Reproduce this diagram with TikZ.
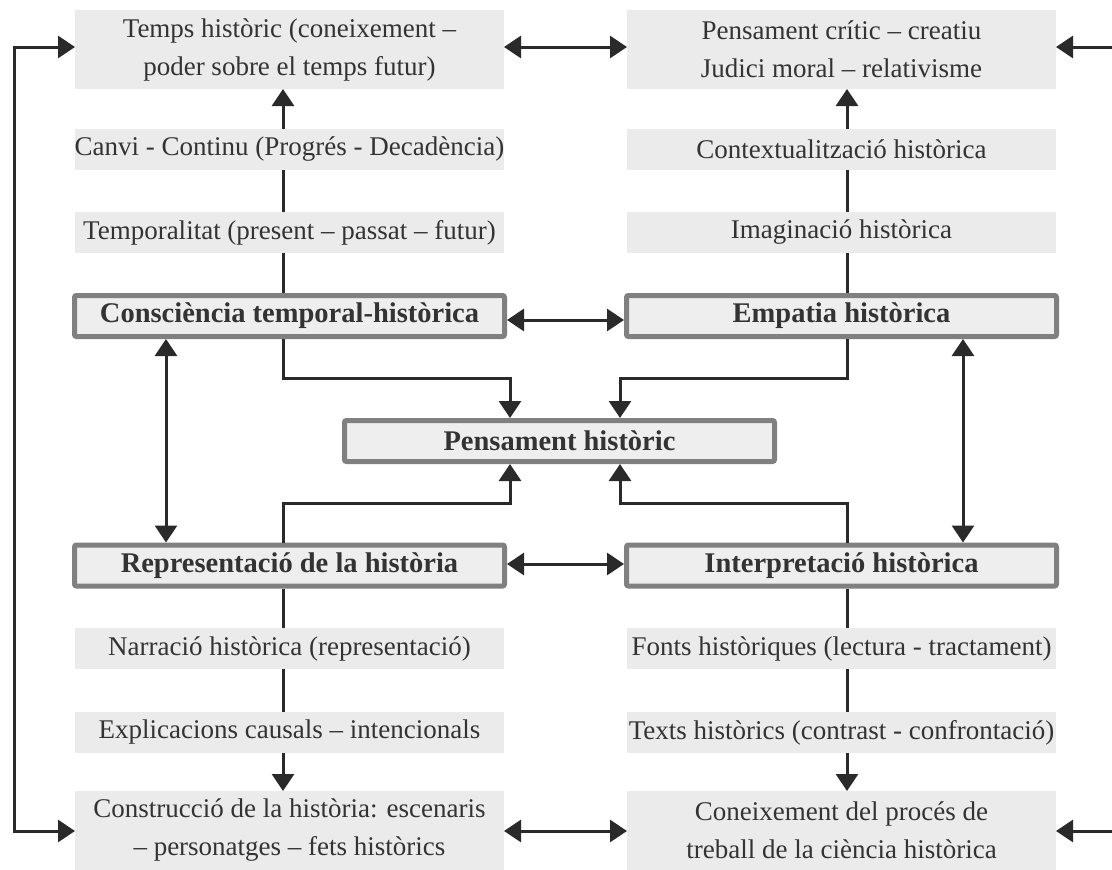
\documentclass[tikz,border=0pt]{standalone}
\usepackage{fontspec}
\setmainfont{Liberation Serif}
\usetikzlibrary{arrows.meta,backgrounds}
\definecolor{ink}{HTML}{333333}
\definecolor{wire}{HTML}{2A2A2A}
\definecolor{pale}{HTML}{EBEBEB}
\definecolor{rim}{HTML}{808080}
\definecolor{corefill}{HTML}{EEEEEE}

\begin{document}
\begin{tikzpicture}[x=1pt,y=-1pt,
  every node/.style={text=ink, align=center, inner sep=0pt, outer sep=0pt},
  note/.style={fill=pale, minimum width=429pt, minimum height=41pt,
    font=\fontsize{27}{38}\selectfont},
  bignote/.style={note, minimum height=79pt},
  keybox/.style={draw=rim, fill=corefill, line width=5pt, rounded corners=2pt,
    minimum width=430pt, minimum height=41pt, outer sep=2.5pt,
    font=\fontsize{28.5}{37}\selectfont\bfseries},
  link/.style={draw=wire, line width=3pt},
  fwd/.style={link, -{Triangle[width=22pt,length=17pt]}},
  both/.style={link, {Triangle[width=22pt,length=17pt]}-{Triangle[width=22pt,length=17pt]}},
]
\useasboundingbox (0,0) rectangle (1112,870);

% guide coordinates for rows and columns of connectors
\coordinate (rowA) at (0,47);
\coordinate (rowB) at (0,320);
\coordinate (rowC) at (0,564);
\coordinate (rowD) at (0,831);
\coordinate (colL) at (283,0);
\coordinate (colR) at (847,0);
\coordinate (vL) at (166,0);
\coordinate (vR) at (963,0);
\coordinate (loopL) at (14,0);
\coordinate (edgeR) at (1116,0);
\coordinate (pL) at (510,378);
\coordinate (pR) at (620,378);
\coordinate (qL) at (510,503);
\coordinate (qR) at (620,503);

% outcome boxes
\node[bignote] (tl) at (289.5,49.5) {Temps històric (coneixement –\\poder sobre el temps futur)};
\node[bignote] (tr) at (841.5,49.5) {Pensament crític – creatiu\\Judici moral – relativisme};
\node[bignote] (bl) at (289.5,830.5) {Construcció de la història: escenaris\\– personatges – fets històrics};
\node[bignote] (br) at (841.5,830.5) {Coneixement del procés de\\treball de la ciència històrica};

% intermediate notes
\node[note] (c1) at (289.5,149.5) {Canvi - Continu (Progrés - Decadència)};
\node[note] (c2) at (841.5,149.5) {Contextualització històrica};
\node[note] (t1) at (289.5,232.5) {Temporalitat (present – passat – futur)};
\node[note] (t2) at (841.5,232.5) {Imaginació històrica};
\node[note] (n1) at (289.5,648.5) {Narració històrica (representació)};
\node[note] (n2) at (841.5,648.5) {Fonts històriques (lectura - tractament)};
\node[note] (e1) at (289.5,732.5) {Explicacions causals – intencionals};
\node[note] (e2) at (841.5,732.5) {Texts històrics (contrast - confrontació)};

% core concepts
\node[keybox] (cons) at (289.5,316) {Consciència temporal-històrica};
\node[keybox] (emp) at (841.5,316) {Empatia històrica};
\node[keybox] (pens) at (559.5,441) {Pensament històric};
\node[keybox] (rep) at (289.5,565.5) {Representació de la història};
\node[keybox] (int) at (841.5,565.5) {Interpretació històrica};

\begin{pgfonlayer}{background}
  \fill[white] (0,0) rectangle (1112,870);
  % column spines running behind the notes
  \draw[fwd] (cons.north -| colL) -- (tl.south -| colL);
  \draw[fwd] (emp.north -| colR) -- (tr.south -| colR);
  \draw[fwd] (rep.south -| colL) -- (bl.north -| colL);
  \draw[fwd] (int.south -| colR) -- (br.north -| colR);
\end{pgfonlayer}

% horizontal links
\draw[both] (tl.east |- rowA) -- (tr.west |- rowA);
\draw[both] (cons.east |- rowB) -- (emp.west |- rowB);
\draw[both] (rep.east |- rowC) -- (int.west |- rowC);
\draw[both] (bl.east |- rowD) -- (br.west |- rowD);

% vertical links
\draw[both] (cons.south -| vL) -- (rep.north -| vL);
\draw[both] (emp.south -| vR) -- (int.north -| vR);

% convergence on the central concept
\draw[fwd] (cons.south -| colL) |- (pL) -- (pL |- pens.north);
\draw[fwd] (emp.south -| colR) |- (pR) -- (pR |- pens.north);
\draw[fwd] (rep.north -| colL) |- (qL) -- (qL |- pens.south);
\draw[fwd] (int.north -| colR) |- (qR) -- (qR |- pens.south);

% outer loop on the left, feeds from the right edge
\draw[both] (tl.west |- rowA) -| (loopL |- rowD) -- (bl.west |- rowD);
\draw[fwd] (edgeR |- rowA) -- (tr.east |- rowA);
\draw[fwd] (edgeR |- rowD) -- (br.east |- rowD);
\end{tikzpicture}
\end{document}
